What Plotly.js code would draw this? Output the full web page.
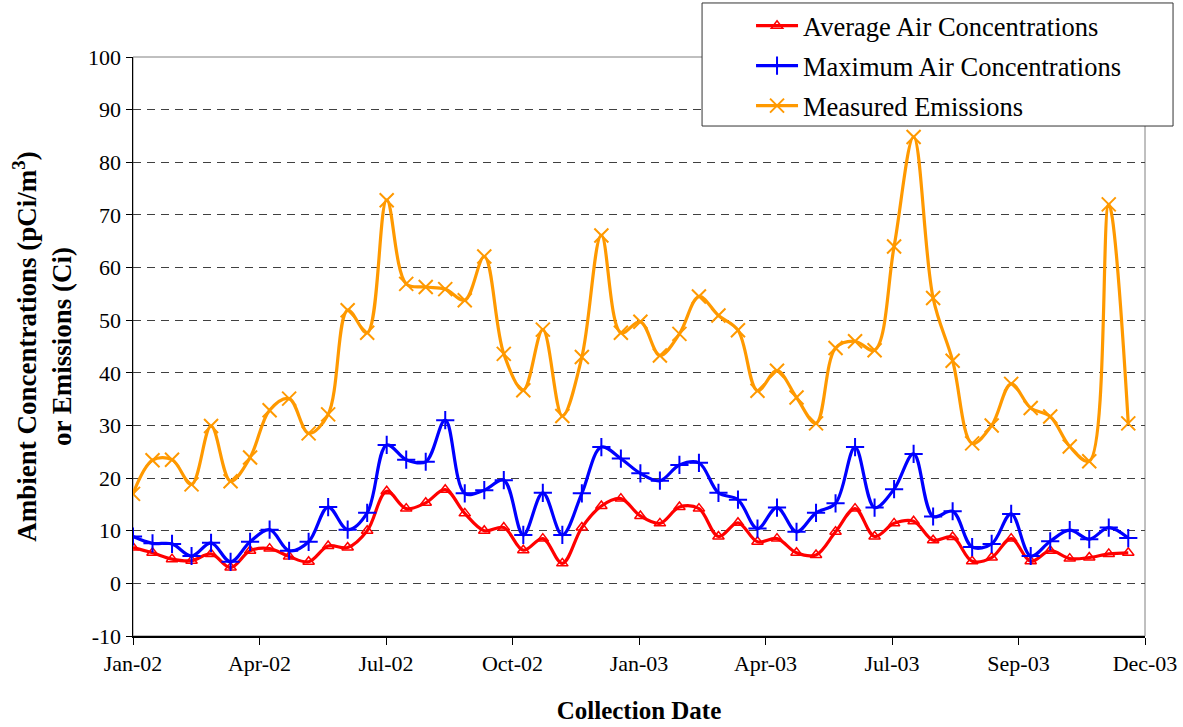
<!DOCTYPE html>
<html>
<head>
<meta charset="utf-8">
<script src="https://cdn.plot.ly/plotly-3.0.1.min.js"></script>
<style>
  html, body { margin: 0; padding: 0; background: #ffffff; }
  #chart { width: 1183px; height: 727px; }
</style>
</head>
<body>
<div id="chart"></div>
<script>
// Collection dates (biweekly)
var dates = [
  '2002-01-03','2002-01-17','2002-01-31','2002-02-14','2002-02-28','2002-03-14','2002-03-28',
  '2002-04-11','2002-04-25','2002-05-09','2002-05-23','2002-06-06','2002-06-20','2002-07-04',
  '2002-07-18','2002-08-01','2002-08-15','2002-08-29','2002-09-12','2002-09-26','2002-10-10',
  '2002-10-24','2002-11-07','2002-11-21','2002-12-05','2002-12-19',
  '2003-01-02','2003-01-16','2003-01-30','2003-02-13','2003-02-27','2003-03-13','2003-03-27',
  '2003-04-10','2003-04-24','2003-05-08','2003-05-22','2003-06-05','2003-06-19','2003-07-03',
  '2003-07-17','2003-07-31','2003-08-14','2003-08-28','2003-09-11','2003-09-25','2003-10-09',
  '2003-10-23','2003-11-06','2003-11-20','2003-12-04','2003-12-18'
];

var averageAir = [
  6.8, 5.8, 4.6, 4.3, 5.6, 3.0, 6.2, 6.6, 5.1, 4.1,
  7.1, 6.8, 10.0, 17.5, 14.2, 15.3, 17.8, 13.3, 10.0, 10.6,
  6.3, 8.5, 3.8, 10.6, 14.7, 16.1, 12.8, 11.4, 14.5, 14.2,
  8.9, 11.5, 7.9, 8.5, 5.8, 5.4, 9.8, 14.2, 8.9, 11.4,
  11.8, 8.2, 8.8, 4.2, 4.9, 8.5, 4.2, 6.2, 4.7, 4.9,
  5.6, 5.8
];

var maximumAir = [
  8.9, 7.6, 7.5, 5.2, 7.7, 4.1, 7.9, 10.2, 6.2, 7.9,
  14.5, 10.2, 13.4, 26.3, 23.5, 23.1, 31.0, 17.1, 17.7, 19.6,
  9.2, 17.2, 9.2, 17.1, 25.9, 23.7, 20.9, 19.5, 22.5, 22.9,
  17.2, 15.9, 10.4, 14.4, 9.8, 13.4, 15.2, 25.9, 14.4, 17.9,
  24.6, 12.7, 13.7, 6.9, 7.5, 13.2, 5.2, 8.0, 10.1, 8.4,
  10.6, 8.6
];

var measuredEmissions = [
  17.0, 23.4, 23.5, 18.8, 29.9, 19.4, 23.9, 32.9, 35.1, 28.5,
  32.1, 51.9, 47.6, 72.8, 56.9, 56.3, 55.9, 53.8, 62.1, 43.6,
  36.7, 48.2, 31.8, 43.0, 66.1, 47.6, 49.7, 43.3, 47.4, 54.5,
  50.9, 48.1, 36.6, 40.4, 35.3, 30.4, 44.7, 46.0, 44.3, 64.0,
  84.8, 54.2, 42.3, 26.6, 30.0, 37.9, 33.3, 31.7, 26.0, 23.2,
  72.0, 30.4
];

var seriesNames = ['Average Air Concentrations', 'Maximum Air Concentrations', 'Measured Emissions'];

var tickDates = ['2002-01-03','2002-04-03 18:00','2002-07-03 12:00','2002-10-02 06:00','2003-01-01',
                 '2003-04-01 18:00','2003-07-01 12:00','2003-09-30 06:00','2003-12-30'];
var tickLabels = ['Jan-02','Apr-02','Jul-02','Oct-02','Jan-03','Apr-03','Jul-03','Sep-03','Dec-03'];
var xRange = ['2002-01-03', '2003-12-30'];

var yTickVals = [-10, 0, 10, 20, 30, 40, 50, 60, 70, 80, 90, 100];
var yTickLabels = ['-10', '0', '10', '20', '30', '40', '50', '60', '70', '80', '90', '100'];

var FONT = 'Liberation Serif, Times New Roman, serif';

var traces = [
  {
    x: dates, y: averageAir, name: seriesNames[0], type: 'scatter', mode: 'lines+markers',
    legendgroup: 'a',
    line: {color: '#FF0000', width: 3.2, shape: 'spline', smoothing: 1},
    marker: {symbol: 'triangle-up-open', size: 10, color: '#FF0000', line: {color: '#FF0000', width: 1.5}}
  },
  {
    x: dates, y: maximumAir, name: seriesNames[1], type: 'scatter', mode: 'lines+markers',
    legendgroup: 'b',
    line: {color: '#0000FF', width: 3.2, shape: 'spline', smoothing: 1},
    marker: {symbol: 'cross-thin-open', size: 13, color: '#0000FF', line: {color: '#0000FF', width: 2}}
  },
  {
    x: dates, y: measuredEmissions, name: seriesNames[2], type: 'scatter', mode: 'lines+markers',
    legendgroup: 'c',
    line: {color: '#FF9900', width: 3.2, shape: 'spline', smoothing: 1},
    marker: {symbol: 'x-thin-open', size: 14, color: '#FF9900', line: {color: '#FF9900', width: 2}}
  }
];

var layout = {
  width: 1183, height: 727,
  margin: {l: 133, r: 38, t: 57, b: 91, autoexpand: false},
  paper_bgcolor: '#ffffff', plot_bgcolor: '#ffffff',
  font: {family: FONT, color: '#000000', size: 22},
  showlegend: true,
  legend: {
    x: 0.6107, y: 1.095, xanchor: 'left', yanchor: 'top',
    bgcolor: 'rgba(0,0,0,0)', borderwidth: 0,
    font: {family: FONT, size: 26.5, color: '#000000'},
    itemwidth: 42, tracegroupgap: 2.5, traceorder: 'grouped'
  },
  xaxis: {
    type: 'date', range: xRange, automargin: false,
    tickmode: 'array', tickvals: tickDates, ticktext: tickLabels,
    ticks: 'outside', ticklen: 7, tickcolor: '#000000', tickwidth: 1,
    showline: true, linecolor: '#000000', linewidth: 1.5,
    showgrid: false, zeroline: false,
    tickfont: {family: FONT, size: 22, color: '#000000'},
    title: {text: '<b>Collection Date</b>', font: {family: FONT, size: 25, color: '#000000'}, standoff: 26}
  },
  yaxis: {
    range: [-10, 100], automargin: false,
    tickmode: 'array', tickvals: yTickVals, ticktext: yTickLabels,
    ticks: 'outside', ticklen: 6, tickcolor: '#000000', tickwidth: 1,
    showline: true, linecolor: '#000000', linewidth: 1.5,
    showgrid: true, gridcolor: '#404040', gridwidth: 1, griddash: '8px,6px',
    zeroline: false,
    tickfont: {family: FONT, size: 22, color: '#000000'},
    title: {text: '<b>Ambient Concentrations (pCi/m<sup>3</sup>)<br>or Emissions (Ci)</b>', font: {family: FONT, size: 27, color: '#000000'}, standoff: 8}
  },
  shapes: [
    {type: 'rect', xref: 'paper', yref: 'paper', x0: 0, x1: 1, y0: 0, y1: 1,
     line: {color: '#808080', width: 1}, fillcolor: 'rgba(0,0,0,0)', layer: 'below'},
    {type: 'rect', xref: 'paper', yref: 'paper', x0: 0.5623, x1: 1.0277, y0: 0.8808, y1: 1.0933,
     line: {color: '#333333', width: 1}, fillcolor: '#ffffff', layer: 'above'}
  ]
};

Plotly.newPlot('chart', traces, layout, {displayModeBar: false, staticPlot: true});
</script>
</body>
</html>
